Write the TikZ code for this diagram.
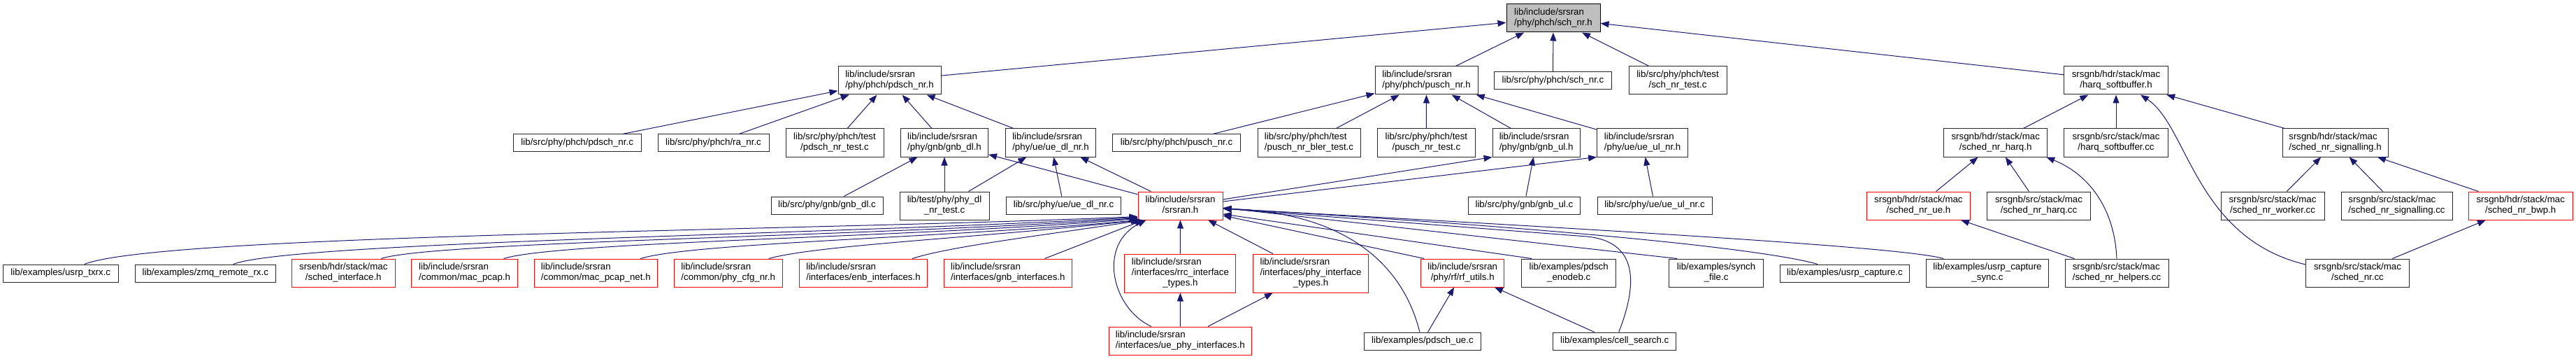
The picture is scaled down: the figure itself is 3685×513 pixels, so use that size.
\documentclass[tikz,border=0pt]{standalone}
\usepackage{fontspec}
\setmainfont{Liberation Sans}
\usetikzlibrary{arrows.meta}
\definecolor{edgeblue}{RGB}{25,25,112}
\definecolor{rootgray}{RGB}{191,191,191}
\newcommand\twoln[2]{\begin{tabular}{@{}l@{}}#1\\\multicolumn{1}{@{}c@{}}{#2}\end{tabular}}
\newcommand\threeln[3]{\begin{tabular}{@{}l@{}}#1\\#2\\\multicolumn{1}{@{}c@{}}{#3}\end{tabular}}
\tikzset{
  box/.style={draw=black!85, line width=1pt, inner sep=0pt, fill=white, text=black,
    font=\fontsize{13.3}{15}\selectfont},
  rbox/.style={box, draw=red},
  sz/.style 2 args={minimum width=#1pt, minimum height=#2pt},
  dep/.style={draw=edgeblue, line width=1pt, -{Triangle[length=12pt,width=9pt]}},
}
\begin{document}
\begin{tikzpicture}[x=1pt,y=-1pt]
\useasboundingbox (0,0) rectangle (3685,513);
% ---------- row 1
\node[box,sz={134}{40},fill=rootgray,draw=black] (root) at (2222,26) {\twoln{lib/include/srsran}{/phy/phch/sch\_nr.h}};
% ---------- row 2
\node[box,sz={147}{40}] (pdschh) at (1272.5,115) {\twoln{lib/include/srsran}{/phy/phch/pdsch\_nr.h}};
\node[box,sz={147}{40}] (puschh) at (2040.5,115) {\twoln{lib/include/srsran}{/phy/phch/pusch\_nr.h}};
\node[box,sz={168}{25}] (schc) at (2221.5,115.5) {lib/src/phy/phch/sch\_nr.c};
\node[box,sz={140}{40}] (schtest) at (2400,115) {\twoln{lib/src/phy/phch/test}{/sch\_nr\_test.c}};
\node[box,sz={149}{40}] (harqsbh) at (3027,115) {\twoln{srsgnb/hdr/stack/mac}{/harq\_softbuffer.h}};
% ---------- row 3
\node[box,sz={183}{25}] (pdschc) at (825.7,204.5) {lib/src/phy/phch/pdsch\_nr.c};
\node[box,sz={159}{25}] (ranr) at (1020.5,204.5) {lib/src/phy/phch/ra\_nr.c};
\node[box,sz={140}{40}] (pdschtest) at (1194,204) {\twoln{lib/src/phy/phch/test}{/pdsch\_nr\_test.c}};
\node[box,sz={125}{40}] (gnbdlh) at (1351,204) {\twoln{lib/include/srsran}{/phy/gnb/gnb\_dl.h}};
\node[box,sz={129}{40}] (uedlh) at (1503,204) {\twoln{lib/include/srsran}{/phy/ue/ue\_dl\_nr.h}};
\node[box,sz={183}{25}] (puschc) at (1683,204.5) {lib/src/phy/phch/pusch\_nr.c};
\node[box,sz={147}{40}] (bler) at (1872.5,204) {\twoln{lib/src/phy/phch/test}{/pusch\_nr\_bler\_test.c}};
\node[box,sz={140}{40}] (puschtest) at (2040.4,204) {\twoln{lib/src/phy/phch/test}{/pusch\_nr\_test.c}};
\node[box,sz={125}{40}] (gnbulh) at (2197.6,204) {\twoln{lib/include/srsran}{/phy/gnb/gnb\_ul.h}};
\node[box,sz={130}{40}] (ueulh) at (2349.6,204) {\twoln{lib/include/srsran}{/phy/ue/ue\_ul\_nr.h}};
\node[box,sz={148}{40}] (harqh) at (2854.7,204) {\twoln{srsgnb/hdr/stack/mac}{/sched\_nr\_harq.h}};
\node[box,sz={149}{40}] (harqsbcc) at (3027,204) {\twoln{srsgnb/src/stack/mac}{/harq\_softbuffer.cc}};
\node[box,sz={151}{40}] (signalh) at (3340.5,204) {\twoln{srsgnb/hdr/stack/mac}{/sched\_nr\_signalling.h}};
% ---------- row 4
\node[box,sz={160}{25}] (gnbdlc) at (1183,293.5) {lib/src/phy/gnb/gnb\_dl.c};
\node[box,sz={128}{40}] (phydltest) at (1351,294) {\twoln{lib/test/phy/phy\_dl}{\_nr\_test.c}};
\node[box,sz={164}{25}] (uedlc) at (1521.5,293.5) {lib/src/phy/ue/ue\_dl\_nr.c};
\node[rbox,sz={121}{40}] (srsran) at (1688.5,294) {\twoln{lib/include/srsran}{/srsran.h}};
\node[box,sz={160}{25}] (gnbulc) at (2180.4,293.5) {lib/src/phy/gnb/gnb\_ul.c};
\node[box,sz={164}{25}] (ueulc) at (2367,293.5) {lib/src/phy/ue/ue\_ul\_nr.c};
\node[rbox,sz={148}{40}] (nrue) at (2744.4,294) {\twoln{srsgnb/hdr/stack/mac}{/sched\_nr\_ue.h}};
\node[box,sz={148}{40}] (harqcc) at (2916.5,294) {\twoln{srsgnb/src/stack/mac}{/sched\_nr\_harq.cc}};
\node[box,sz={148}{40}] (worker) at (3251,294) {\twoln{srsgnb/src/stack/mac}{/sched\_nr\_worker.cc}};
\node[box,sz={159}{40}] (signalcc) at (3428.5,294) {\twoln{srsgnb/src/stack/mac}{/sched\_nr\_signalling.cc}};
\node[rbox,sz={149}{40}] (bwp) at (3605.7,294) {\twoln{srsgnb/hdr/stack/mac}{/sched\_nr\_bwp.h}};
% ---------- row 5
\node[box,sz={165}{25}] (usrptxrx) at (86.8,390.5) {lib/examples/usrp\_txrx.c};
\node[box,sz={201}{25}] (zmq) at (293.8,390.5) {lib/examples/zmq\_remote\_rx.c};
\node[rbox,sz={148}{40}] (schedif) at (491.3,390) {\twoln{srsenb/hdr/stack/mac}{/sched\_interface.h}};
\node[rbox,sz={152}{40}] (macpcap) at (664.6,390) {\twoln{lib/include/srsran}{/common/mac\_pcap.h}};
\node[rbox,sz={176}{40}] (macpcapnet) at (852.3,390) {\twoln{lib/include/srsran}{/common/mac\_pcap\_net.h}};
\node[rbox,sz={155}{40}] (phycfg) at (1041.7,390) {\twoln{lib/include/srsran}{/common/phy\_cfg\_nr.h}};
\node[rbox,sz={183}{40}] (enbif) at (1235,390) {\twoln{lib/include/srsran}{/interfaces/enb\_interfaces.h}};
\node[rbox,sz={183}{40}] (gnbif) at (1441.8,390) {\twoln{lib/include/srsran}{/interfaces/gnb\_interfaces.h}};
\node[rbox,sz={159}{55}] (rrc) at (1688.4,390.5) {\threeln{lib/include/srsran}{/interfaces/rrc\_interface}{\_types.h}};
\node[rbox,sz={165}{55}] (phyif) at (1875,390.5) {\threeln{lib/include/srsran}{/interfaces/phy\_interface}{\_types.h}};
\node[rbox,sz={119}{40}] (rfutils) at (2092.2,390) {\twoln{lib/include/srsran}{/phy/rf/rf\_utils.h}};
\node[box,sz={135}{40}] (enodeb) at (2244.2,390) {\twoln{lib/examples/pdsch}{\_enodeb.c}};
\node[box,sz={135}{40}] (synch) at (2455,390) {\twoln{lib/examples/synch}{\_file.c}};
\node[box,sz={185}{25}] (usrpcap) at (2639,390.5) {lib/examples/usrp\_capture.c};
\node[box,sz={175}{40}] (usrpcapsync) at (2843,390) {\twoln{lib/examples/usrp\_capture}{\_sync.c}};
\node[box,sz={148}{40}] (helpers) at (3028,390) {\twoln{srsgnb/src/stack/mac}{/sched\_nr\_helpers.cc}};
\node[box,sz={148}{40}] (schednrcc) at (3372.5,390) {\twoln{srsgnb/src/stack/mac}{/sched\_nr.cc}};
% ---------- row 6
\node[rbox,sz={204}{40}] (uephy) at (1688.3,487) {\twoln{lib/include/srsran}{/interfaces/ue\_phy\_interfaces.h}};
\node[box,sz={167}{25}] (pdschue) at (2034.9,487.5) {lib/examples/pdsch\_ue.c};
\node[box,sz={176}{25}] (cellsearch) at (2309.7,487.5) {lib/examples/cell\_search.c};

% ================= edges
\draw[dep] (pdschh) -- (root);
\draw[dep] (puschh) -- (root);
\draw[dep] (schc) -- (root);
\draw[dep] (schtest) -- (root);
\draw[dep] (harqsbh) -- (root);

\draw[dep] (pdschc) -- (pdschh);
\draw[dep] (ranr) -- (pdschh);
\draw[dep] (pdschtest) -- (pdschh);
\draw[dep] (gnbdlh) -- (pdschh);
\draw[dep] (uedlh) -- (pdschh);

\draw[dep] (puschc) -- (puschh);
\draw[dep] (bler) -- (puschh);
\draw[dep] (puschtest) -- (puschh);
\draw[dep] (gnbulh) -- (puschh);
\draw[dep] (ueulh) -- (puschh);

\draw[dep] (gnbdlc) -- (gnbdlh);
\draw[dep] (phydltest) -- (gnbdlh);
\draw[dep] (srsran) -- (gnbdlh);
\draw[dep] (phydltest) -- (uedlh);
\draw[dep] (uedlc) -- (uedlh);
\draw[dep] (srsran) -- (uedlh);
\draw[dep] (gnbulc) -- (gnbulh);
\draw[dep] (ueulc) -- (ueulh);
\draw[dep] ([yshift=9pt]srsran.east) -- (gnbulh.south west);
\draw[dep] ([yshift=6pt]srsran.east) -- (ueulh.south west);

% into srsran.h from the left
\draw[dep] ([xshift=34pt]usrptxrx.north) .. controls (230,335) and (1150,330) .. ([yshift=5pt]srsran.south west);
\draw[dep] ([xshift=40pt]zmq.north) .. controls (420,345) and (1200,335) .. ([yshift=4pt]srsran.south west);
\draw[dep] ([xshift=54pt]schedif.north) .. controls (620,345) and (1250,338) .. ([yshift=3pt]srsran.south west);
\draw[dep] ([xshift=56pt]macpcap.north) .. controls (800,345) and (1300,340) .. ([yshift=2pt]srsran.south west);
\draw[dep] ([xshift=64pt]macpcapnet.north) .. controls (990,347) and (1350,340) .. ([xshift=2pt]srsran.south west);
\draw[dep] ([xshift=58pt]phycfg.north) .. controls (1170,350) and (1400,340) .. ([xshift=4pt]srsran.south west);
\draw[dep] ([xshift=70pt]enbif.north) .. controls (1360,352) and (1480,338) .. ([xshift=8pt]srsran.south west);
\draw[dep] (gnbif) -- (srsran);
\draw[dep] ([xshift=-41.5pt]uephy.north) .. controls (1590,440) and (1570,350) .. ([xshift=12pt]srsran.south west);
\draw[dep] (rrc) -- (srsran);
\draw[dep] (phyif) -- (srsran);
\draw[dep] (uephy) -- (rrc);
\draw[dep] (uephy) -- (phyif);

% into srsran.h from the right
\draw[dep] ([xshift=-55pt]rfutils.north) -- ([yshift=-14pt]srsran.east);
\draw[dep] ([xshift=-53pt]enodeb.north) -- ([yshift=-12pt]srsran.east);
\draw[dep] ([xshift=-56pt]synch.north) -- ([yshift=-3pt]srsran.east);
\draw[dep] ([xshift=-39pt]usrpcap.north) .. controls (2540,360) and (2300,330) .. ([yshift=-4pt]srsran.east);
\draw[dep] ([xshift=-63pt]usrpcapsync.north) .. controls (2730,355) and (2400,334) .. ([yshift=-4pt]srsran.east);
\draw[dep] ([xshift=-4pt]pdschue.north) .. controls (2010,390) and (1940,305) .. ([yshift=-4pt]srsran.east);
\draw[dep] ([xshift=6pt]cellsearch.north) .. controls (2345,400) and (2340,345) .. (2270,338) -- ([yshift=-4pt]srsran.east);
\draw[dep] (pdschue) -- (rfutils);
\draw[dep] (cellsearch) -- (rfutils);

% sched cluster
\draw[dep] (harqh) -- (harqsbh);
\draw[dep] (harqsbcc) -- (harqsbh);
\draw[dep] (signalh) -- (harqsbh);
\draw[dep] ([yshift=12pt]schednrcc.west) .. controls (3140,340) and (3130,180) .. ([xshift=35pt]harqsbh.south);
\draw[dep] (nrue) -- (harqh);
\draw[dep] (harqcc) -- (harqh);
\draw[dep] (helpers.north) .. controls (3025,300) and (2990,250) .. ([xshift=-2pt]harqh.south east);
\draw[dep] (helpers) -- (nrue);
\draw[dep] (worker) -- (signalh);
\draw[dep] (signalcc) -- (signalh);
\draw[dep] (bwp) -- (signalh);
\draw[dep] (schednrcc) -- (bwp);
\end{tikzpicture}
\end{document}
